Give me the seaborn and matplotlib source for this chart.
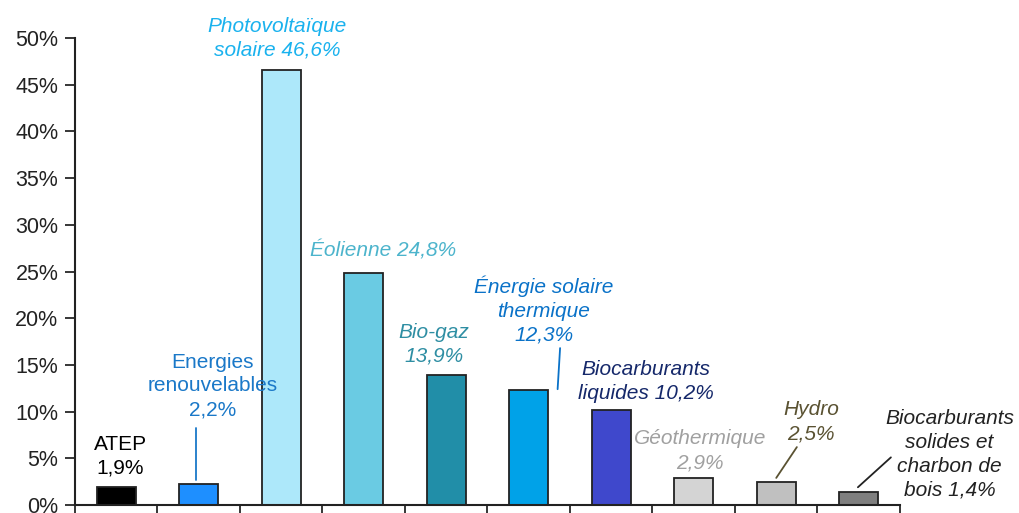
import pandas as pd
import matplotlib.pyplot as plt
import seaborn as sns
from matplotlib.ticker import PercentFormatter

# Parts of the renewable energy sector
sources = ["ATEP", "Energies renouvelables", "Photovoltaïque solaire", "Éolienne", "Bio-gaz",
           "Énergie solaire thermique", "Biocarburants liquides", "Géothermique", "Hydro",
           "Biocarburants solides et charbon de bois"]
shares = [1.9, 2.2, 46.6, 24.8, 13.9, 12.3, 10.2, 2.9, 2.5, 1.4]
label_texts = ["ATEP\n{}%", "Energies\nrenouvelables\n{}%", "Photovoltaïque\nsolaire {}%",
               "Éolienne {}%", "Bio-gaz\n{}%", "Énergie solaire\nthermique\n{}%",
               "Biocarburants\nliquides {}%", "Géothermique\n{}%", "Hydro\n{}%",
               "Biocarburants\nsolides et\ncharbon de\nbois {}%"]

bar_colors = ["#000000", "#1e8fff", "#ade8fa", "#6acbe3", "#218ea8",
              "#00a2e8", "#3f48cc", "#d4d4d4", "#c0c0c0", "#7f7f7f"]
text_colors = ["#000000", "#1a78c8", "#1ab2ee", "#4cb4cc", "#2e8ea3",
               "#0a72c8", "#15286a", "#a0a0a0", "#5a5232", "#222222"]
italic = [False, False, True, True, True, True, True, True, True, True]
# label centres (x in category units, y in %)
text_pos = [(0.05, 5.25), (1.17, 12.75), (1.95, 50.0), (3.23, 27.3), (3.85, 17.2),
            (5.18, 20.9), (6.42, 13.2), (7.08, 5.8), (8.42, 8.9), (10.1, 5.4)]
# leader lines: (index, x0, y0, x1, y1)
leaders = [(1, 0.97, 8.2, 0.97, 2.7), (5, 5.38, 16.8, 5.35, 12.4),
           (8, 8.25, 6.2, 8.0, 2.9), (9, 9.39, 5.1, 8.99, 1.9)]

df = pd.DataFrame({"source": sources, "share": shares})

sns.set_style("white")
plt.rcParams['font.family'] = ['Liberation Sans', 'DejaVu Sans']

fig = plt.figure(figsize=(10.19, 5.13), dpi=100)
ax = fig.add_axes([0.0736, 0.0156, 0.8096, 0.9103])

sns.barplot(data=df, x="source", y="share", hue="source", palette=bar_colors,
            saturation=1, legend=False, width=0.47, edgecolor="#222222",
            linewidth=1.3, ax=ax)

for i, txt in enumerate(label_texts):
    val = str(shares[i]).replace(".", ",")
    x, y = text_pos[i]
    ax.text(x, y, txt.format(val), ha="center", va="center", fontsize=15,
            color=text_colors[i], style="italic" if italic[i] else "normal",
            linespacing=1.32, clip_on=False)

for i, x0, y0, x1, y1 in leaders:
    ax.plot([x0, x1], [y0, y1], color=text_colors[i], linewidth=1.3, clip_on=False)

ax.set_ylim(0, 50)
ax.set_xlim(-0.5, len(sources) - 0.5)
ax.set_yticks(range(0, 51, 5))
ax.yaxis.set_major_formatter(PercentFormatter(decimals=0))
ax.set_xticks([i - 0.5 for i in range(len(sources) + 1)])
ax.set_xticklabels([])
ax.set_xlabel("")
ax.set_ylabel("")
ax.tick_params(axis="y", direction="out", length=7, width=1.3, labelsize=15.5,
               left=True, pad=5, labelcolor="#222222")
ax.tick_params(axis="x", direction="out", length=12, width=1.3, bottom=True)
for s in ["top", "right"]:
    ax.spines[s].set_visible(False)
for s in ["left", "bottom"]:
    ax.spines[s].set_color("#222222")
    ax.spines[s].set_linewidth(1.5)

fig.savefig("out.png", dpi=100)
